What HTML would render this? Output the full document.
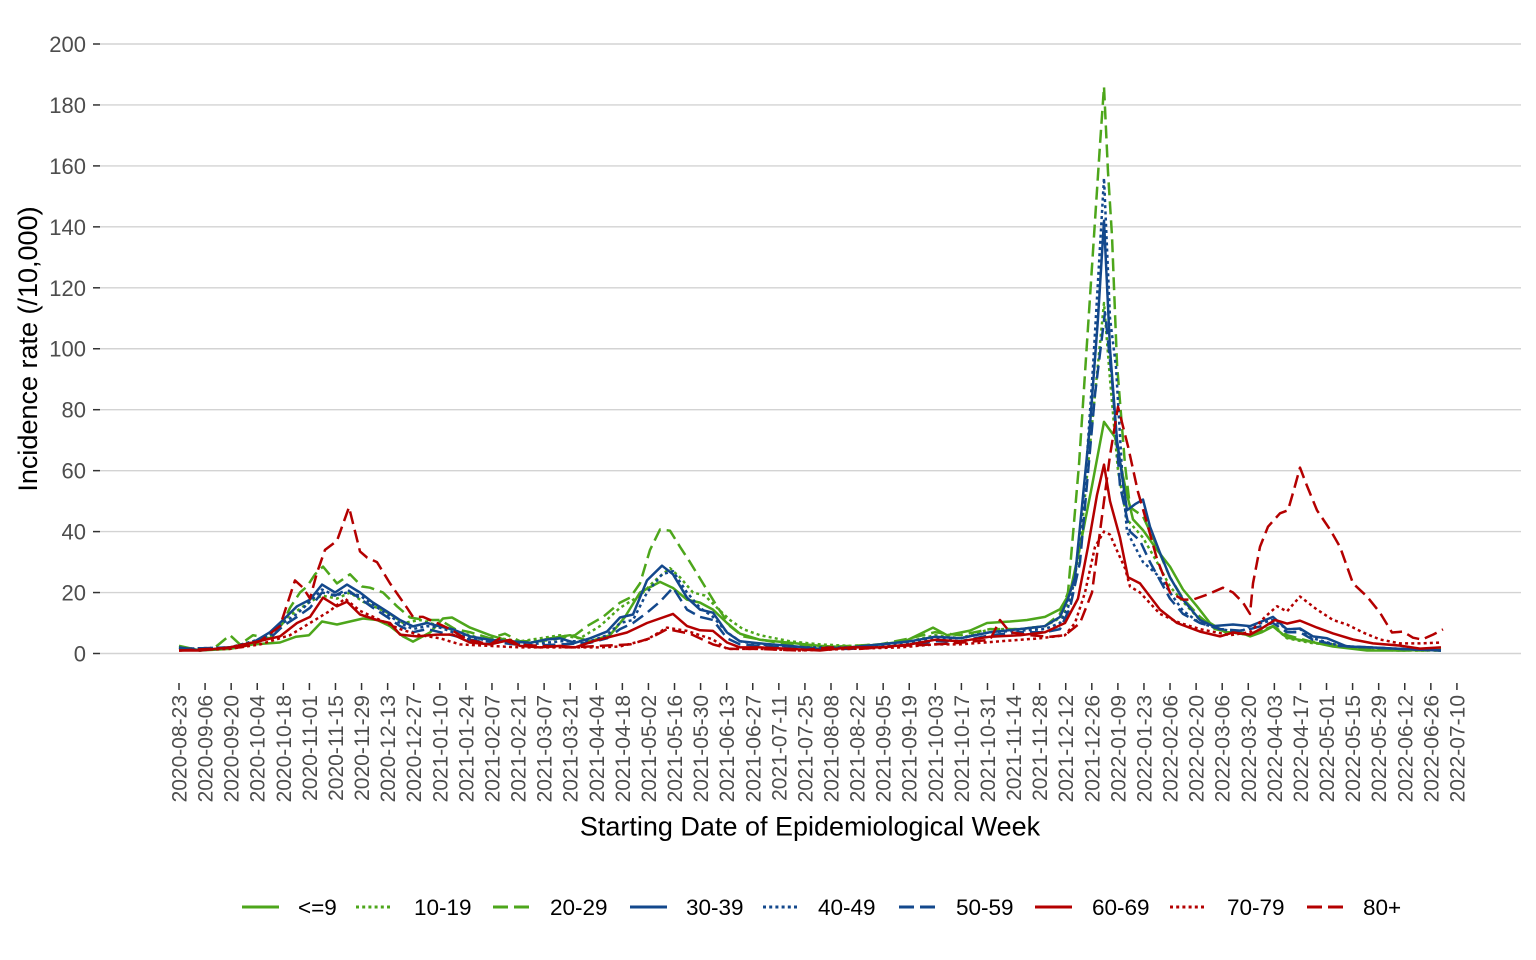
<!DOCTYPE html>
<html><head><meta charset="utf-8"><style>
html,body{margin:0;padding:0;background:#fff;}
svg{display:block;font-family:"Liberation Sans",Arial,sans-serif;}
</style></head><body>
<svg id="c" width="1536" height="960" viewBox="0 0 1536 960" xmlns="http://www.w3.org/2000/svg">
<rect width="1536" height="960" fill="#fff"/>
<g stroke="#d3d3d3" stroke-width="1.4">
<line x1="100" x2="1521" y1="653.5" y2="653.5"/>
<line x1="100" x2="1521" y1="592.55" y2="592.55"/>
<line x1="100" x2="1521" y1="531.6" y2="531.6"/>
<line x1="100" x2="1521" y1="470.65" y2="470.65"/>
<line x1="100" x2="1521" y1="409.7" y2="409.7"/>
<line x1="100" x2="1521" y1="348.75" y2="348.75"/>
<line x1="100" x2="1521" y1="287.8" y2="287.8"/>
<line x1="100" x2="1521" y1="226.85" y2="226.85"/>
<line x1="100" x2="1521" y1="165.9" y2="165.9"/>
<line x1="100" x2="1521" y1="104.95" y2="104.95"/>
<line x1="100" x2="1521" y1="44" y2="44"/>
</g>
<g stroke="#333" stroke-width="1.5">
<line x1="93" x2="100" y1="653.5" y2="653.5"/>
<line x1="93" x2="100" y1="592.55" y2="592.55"/>
<line x1="93" x2="100" y1="531.6" y2="531.6"/>
<line x1="93" x2="100" y1="470.65" y2="470.65"/>
<line x1="93" x2="100" y1="409.7" y2="409.7"/>
<line x1="93" x2="100" y1="348.75" y2="348.75"/>
<line x1="93" x2="100" y1="287.8" y2="287.8"/>
<line x1="93" x2="100" y1="226.85" y2="226.85"/>
<line x1="93" x2="100" y1="165.9" y2="165.9"/>
<line x1="93" x2="100" y1="104.95" y2="104.95"/>
<line x1="93" x2="100" y1="44" y2="44"/>
</g>
<g fill="#4d4d4d" font-size="22" text-anchor="end">
<text x="86" y="661.5">0</text>
<text x="86" y="600.5">20</text>
<text x="86" y="539.6">40</text>
<text x="86" y="478.6">60</text>
<text x="86" y="417.7">80</text>
<text x="86" y="356.7">100</text>
<text x="86" y="295.8">120</text>
<text x="86" y="234.8">140</text>
<text x="86" y="173.9">160</text>
<text x="86" y="113">180</text>
<text x="86" y="52">200</text>
</g>
<g id="xt" stroke="#333" stroke-width="1.5"></g>
<g fill="#4d4d4d" font-size="21" text-anchor="end">
<text transform="translate(186.5,695) rotate(-90)">2020-08-23</text>
<text transform="translate(212.6,695) rotate(-90)">2020-09-06</text>
<text transform="translate(238.7,695) rotate(-90)">2020-09-20</text>
<text transform="translate(264.7,695) rotate(-90)">2020-10-04</text>
<text transform="translate(290.8,695) rotate(-90)">2020-10-18</text>
<text transform="translate(316.9,695) rotate(-90)">2020-11-01</text>
<text transform="translate(343,695) rotate(-90)">2020-11-15</text>
<text transform="translate(369.1,695) rotate(-90)">2020-11-29</text>
<text transform="translate(395.1,695) rotate(-90)">2020-12-13</text>
<text transform="translate(421.2,695) rotate(-90)">2020-12-27</text>
<text transform="translate(447.3,695) rotate(-90)">2021-01-10</text>
<text transform="translate(473.4,695) rotate(-90)">2021-01-24</text>
<text transform="translate(499.5,695) rotate(-90)">2021-02-07</text>
<text transform="translate(525.5,695) rotate(-90)">2021-02-21</text>
<text transform="translate(551.6,695) rotate(-90)">2021-03-07</text>
<text transform="translate(577.7,695) rotate(-90)">2021-03-21</text>
<text transform="translate(603.8,695) rotate(-90)">2021-04-04</text>
<text transform="translate(629.9,695) rotate(-90)">2021-04-18</text>
<text transform="translate(655.9,695) rotate(-90)">2021-05-02</text>
<text transform="translate(682,695) rotate(-90)">2021-05-16</text>
<text transform="translate(708.1,695) rotate(-90)">2021-05-30</text>
<text transform="translate(734.2,695) rotate(-90)">2021-06-13</text>
<text transform="translate(760.3,695) rotate(-90)">2021-06-27</text>
<text transform="translate(786.3,695) rotate(-90)">2021-07-11</text>
<text transform="translate(812.4,695) rotate(-90)">2021-07-25</text>
<text transform="translate(838.5,695) rotate(-90)">2021-08-08</text>
<text transform="translate(864.6,695) rotate(-90)">2021-08-22</text>
<text transform="translate(890.7,695) rotate(-90)">2021-09-05</text>
<text transform="translate(916.7,695) rotate(-90)">2021-09-19</text>
<text transform="translate(942.8,695) rotate(-90)">2021-10-03</text>
<text transform="translate(968.9,695) rotate(-90)">2021-10-17</text>
<text transform="translate(995,695) rotate(-90)">2021-10-31</text>
<text transform="translate(1021.1,695) rotate(-90)">2021-11-14</text>
<text transform="translate(1047.1,695) rotate(-90)">2021-11-28</text>
<text transform="translate(1073.2,695) rotate(-90)">2021-12-12</text>
<text transform="translate(1099.3,695) rotate(-90)">2021-12-26</text>
<text transform="translate(1125.4,695) rotate(-90)">2022-01-09</text>
<text transform="translate(1151.5,695) rotate(-90)">2022-01-23</text>
<text transform="translate(1177.5,695) rotate(-90)">2022-02-06</text>
<text transform="translate(1203.6,695) rotate(-90)">2022-02-20</text>
<text transform="translate(1229.7,695) rotate(-90)">2022-03-06</text>
<text transform="translate(1255.8,695) rotate(-90)">2022-03-20</text>
<text transform="translate(1281.9,695) rotate(-90)">2022-04-03</text>
<text transform="translate(1307.9,695) rotate(-90)">2022-04-17</text>
<text transform="translate(1334,695) rotate(-90)">2022-05-01</text>
<text transform="translate(1360.1,695) rotate(-90)">2022-05-15</text>
<text transform="translate(1386.2,695) rotate(-90)">2022-05-29</text>
<text transform="translate(1412.3,695) rotate(-90)">2022-06-12</text>
<text transform="translate(1438.3,695) rotate(-90)">2022-06-26</text>
<text transform="translate(1464.4,695) rotate(-90)">2022-07-10</text>
</g>
<text x="810" y="835.5" font-size="27" text-anchor="middle" fill="#000">Starting Date of Epidemiological Week</text>
<text transform="translate(37,349) rotate(-90)" font-size="27" text-anchor="middle" fill="#000">Incidence rate (/10,000)</text>
<g id="series" fill="none" stroke-linejoin="round" stroke-linecap="butt"></g>
<g stroke-width="3" fill="none">
<line x1="242" x2="279" y1="907" y2="907" stroke="#4DA61B"/>
<line x1="356" x2="393" y1="907" y2="907" stroke="#4DA61B" stroke-dasharray="3 3.2"/>
<line x1="493" x2="530" y1="907" y2="907" stroke="#4DA61B" stroke-dasharray="15 6"/>
<line x1="630" x2="667" y1="907" y2="907" stroke="#13488C"/>
<line x1="763" x2="800" y1="907" y2="907" stroke="#13488C" stroke-dasharray="3 3.2"/>
<line x1="899" x2="936" y1="907" y2="907" stroke="#13488C" stroke-dasharray="15 6"/>
<line x1="1035" x2="1072" y1="907" y2="907" stroke="#B40000"/>
<line x1="1170" x2="1207" y1="907" y2="907" stroke="#B40000" stroke-dasharray="3 3.2"/>
<line x1="1307" x2="1344" y1="907" y2="907" stroke="#B40000" stroke-dasharray="15 6"/>
</g>
<g font-size="22.5" fill="#000">
<text x="298" y="915">&lt;=9</text>
<text x="414" y="915">10-19</text>
<text x="550" y="915">20-29</text>
<text x="686" y="915">30-39</text>
<text x="818" y="915">40-49</text>
<text x="956" y="915">50-59</text>
<text x="1092" y="915">60-69</text>
<text x="1227" y="915">70-79</text>
<text x="1363" y="915">80+</text>
</g>
</svg>
<script>
(function(){
var NS="http://www.w3.org/2000/svg";
var xt=document.getElementById("xt");
for(var i=0;i<50;i++){var x=179+26.08*i;var l=document.createElementNS(NS,"line");
l.setAttribute("x1",x);l.setAttribute("x2",x);l.setAttribute("y1",683);l.setAttribute("y2",690);xt.appendChild(l);}
var G="#4DA61B",B="#13488C",R="#B40000";
var DOT="3 3.2",DASH="13 6";
var S=[
{c:G,d:null,p:[179,2.5,200,1,230,1.5,253,3,280,3.6,296,5.5,309,6,322,10.5,337,9.5,350,10.5,363,11.5,377,11,390,9,403,5.6,413,3.9,430,6.9,443,11.5,452,11.8,470,8.5,490,6,510,4,530,3.5,550,5,570,6,590,4,610,6,625,12,640,20,660,23.5,673,21.5,687,17.7,700,16.7,713,14.4,727,10,740,6.5,760,4.5,790,3.5,820,2.5,850,2,880,3,905,4,933,8.5,947,6,970,7.5,987,10,1010,10.5,1027,11,1045,12,1060,14.5,1070,20,1080,35,1092,55,1104,76,1115,71,1125,55,1133,44,1143,40.5,1157,34,1170,28.5,1183,21,1197,15.5,1210,10,1225,7,1240,7,1250,5.6,1262,7,1273,8.9,1287,5.2,1310,3.9,1333,2.3,1367,1,1400,1,1441,1.2]},
{c:G,d:DOT,p:[179,2,200,1,230,2,253,4,270,6,283,11,297,14,310,17,322,19,337,18,350,20,363,17,377,15,390,13,403,10,420,11,440,9,460,7,480,5,500,5,520,4,540,5,560,6,580,5,600,9,620,15,640,19,655,24,670,28,680,25,693,20,705,19,717,15,730,11,743,8,760,6,790,4,820,3,850,2.5,880,3,910,4,935,6,960,5,990,8,1020,8,1045,9,1062,12,1072,20,1080,35,1092,75,1104,115,1110,90,1118,60,1127,44,1143,38,1157,30,1170,22,1183,17,1200,11,1220,8,1240,6.5,1250,6,1273,9,1287,5,1310,3.5,1340,2.5,1370,1.2,1400,1,1441,1]},
{c:G,d:DASH,p:[179,2,200,1,215,2,230,6,240,3,253,6,270,5,283,10,290,15,300,20,307,22,315,26,323,28.5,337,23,350,26,362,22,370,21.6,383,20,397,15.5,410,11.8,425,11,440,11,455,8,470,7,490,5,505,6.5,520,4,540,4,560,5,575,6,587,9,603,12,620,16.7,630,18.3,640,23,650,34,660,40.7,670,40.3,680,35,690,30,703,23,717,15.5,730,9,743,5.6,760,4.6,787,3,820,2,850,2.5,880,3,910,5,935,7,960,6,990,8,1020,8,1045,9,1060,13,1068,20,1079,62,1092,127,1100,167,1104,186,1108,158,1112,137,1117,95,1125,62,1130,48,1143,45,1157,35,1170,25,1183,18,1200,12,1215,8,1230,7,1250,6,1273,9,1287,6,1310,4,1333,3,1367,1.5,1400,1,1441,1]},
{c:B,d:null,p:[179,2,200,1,230,2,253,3.6,270,7,283,11,297,15.5,310,17.7,322,22.6,335,20,347,22.6,360,20,373,16.7,387,13.8,400,11,413,8.9,427,10,440,8.9,453,7.9,470,5.6,490,4.5,510,4,530,3.5,545,4.5,560,5,575,3.5,590,5,607,7.2,620,11.8,633,12.8,647,24,662,28.8,673,26,687,18.3,700,14.4,713,13.4,727,6.9,740,4,760,3.3,790,2.5,820,1.5,850,2,880,3,910,4,935,5.5,960,5,990,7,1020,8,1045,9,1060,12,1068,18,1075,25,1090,75,1098,110,1104,142,1110,100,1117,70,1127,47,1135,49,1143,50.5,1150,41.6,1160,33,1170,25,1183,17.7,1200,11,1213,9,1233,9.5,1250,9,1273,12,1287,7.9,1300,8.2,1313,5.6,1327,5,1347,2.3,1370,2,1400,1.5,1441,1]},
{c:B,d:DOT,p:[179,1.5,230,2,253,4,270,6,283,10,297,13,310,17,322,21,335,19,347,20,360,19,373,16,387,13,400,10,413,8,427,9,440,8.5,470,5,500,4,530,3,560,4,590,4,607,6,620,10,633,11,647,20,662,26,673,27,687,20,700,15,713,12,727,7,740,4,760,3,800,2,850,2,900,3,935,5,960,5,990,7,1020,7.5,1045,8,1060,10,1068,15,1075,25,1085,55,1093,94,1104,156,1110,110,1116,94,1122,60,1127,40,1135,35,1143,30,1160,25,1170,20,1183,14,1200,10,1220,8,1240,7,1250,9,1273,11,1287,8,1300,8,1313,5,1340,2.5,1370,2,1400,1.5,1441,1]},
{c:B,d:DASH,p:[179,1.5,230,2,253,3.5,270,5,283,9,297,12,310,15,322,20,335,19,347,21,360,18,373,15,387,12,400,9,413,7,427,8,440,7,470,4.5,500,3.5,530,2.5,560,3,590,3.5,607,5,620,8,633,10,647,13.4,660,17,673,21.6,687,14.4,700,12,713,11,727,5,740,3,760,2.5,800,1.5,850,1.5,900,2.5,935,4,960,4,990,6,1020,7,1045,7,1060,8,1070,15,1080,30,1095,85,1105,112,1112,90,1120,55,1130,40,1140,37,1150,30,1160,24,1170,18,1183,13,1200,10,1220,8,1240,7.5,1250,8,1273,10,1287,7,1300,7,1313,4.5,1340,2.5,1370,2,1400,1.5,1441,1]},
{c:R,d:null,p:[179,1,200,1,230,2,253,3.6,280,5.6,297,10,310,12,323,18.3,337,15.5,347,17,360,12.8,377,11,390,10,400,6.2,417,5.6,437,6.2,453,6.2,470,3.6,490,3,510,4.5,520,2.5,540,2,560,2.5,575,2,593,4,627,6.9,647,10,673,13,687,9,700,7.6,713,7.4,727,3.6,740,2,760,2,790,1.5,820,1,850,2,880,2,910,3,935,4.5,960,4,990,5.5,1020,6,1045,7,1065,10,1078,18,1088,35,1097,52,1104,62,1110,50,1120,38,1128,25,1140,23,1150,18.7,1160,14.4,1177,10,1200,7.2,1220,5.6,1233,6.9,1250,6.2,1263,8.5,1275,11,1287,9.8,1300,10.8,1317,8.5,1333,6.6,1353,4.6,1373,3.3,1400,2.6,1420,1.6,1441,2]},
{c:R,d:DOT,p:[179,1,230,1.5,260,3,290,6,310,10,330,14,345,18,360,14,380,11,400,8,420,6,440,5,460,3,490,2.5,520,2,560,2,600,2,620,2.3,647,4.6,667,8.5,687,7.4,713,4.6,727,1.5,760,1.5,800,1,850,1.5,900,2,935,3,960,3,1000,4,1040,5,1065,6,1075,10,1085,20,1095,35,1104,40,1110,39,1118,33,1125,28,1130,22,1140,20,1160,13,1180,10,1200,8,1230,6,1250,7,1265,12,1277,15.5,1287,13.8,1300,18.7,1317,14.4,1333,11,1347,9.5,1363,6.9,1380,4.6,1400,3.3,1420,3.3,1441,3.6]},
{c:R,d:DASH,p:[179,1,210,1.5,240,2,260,4,280,9,295,24,303,21.6,310,18,317,26.5,325,34,337,37,349,48,360,33.5,367,31.5,377,30,390,23,407,15,413,12,423,12,437,10,450,8,467,4.6,490,3,500,5,515,3,540,2.5,570,2,600,2.5,630,3,650,5,667,8,690,6.5,713,3,730,1.5,760,1.5,800,1,830,2,860,1.5,900,2.5,935,3,960,3.5,990,4.5,1000,11,1010,7,1030,6,1050,5.5,1065,6,1080,10,1092,20,1100,40,1110,65,1118,81,1128,68,1138,53,1148,41.6,1157,31,1170,20,1183,17.7,1193,17.7,1207,19.3,1223,21.6,1233,20,1243,16.7,1250,13,1253,23,1260,35,1268,41.6,1280,46,1288,47,1295,55,1300,61,1307,55,1317,47,1330,40.7,1340,35,1347,28.5,1353,23,1367,18.7,1380,13.4,1392,6.9,1403,7.2,1413,5.2,1422,4.6,1433,6.2,1443,7.9]}
];
var g=document.getElementById("series");
S.forEach(function(s){
 var d="";
 for(var i=0;i<s.p.length;i+=2){var x=s.p[i],y=653.5-3.0475*s.p[i+1];d+=(i?"L":"M")+x.toFixed(1)+" "+y.toFixed(1);}
 var p=document.createElementNS(NS,"path");
 p.setAttribute("d",d);p.setAttribute("stroke",s.c);p.setAttribute("stroke-width","2.5");
 if(s.d)p.setAttribute("stroke-dasharray",s.d);
 g.appendChild(p);
});
})();
</script>
</body></html>
